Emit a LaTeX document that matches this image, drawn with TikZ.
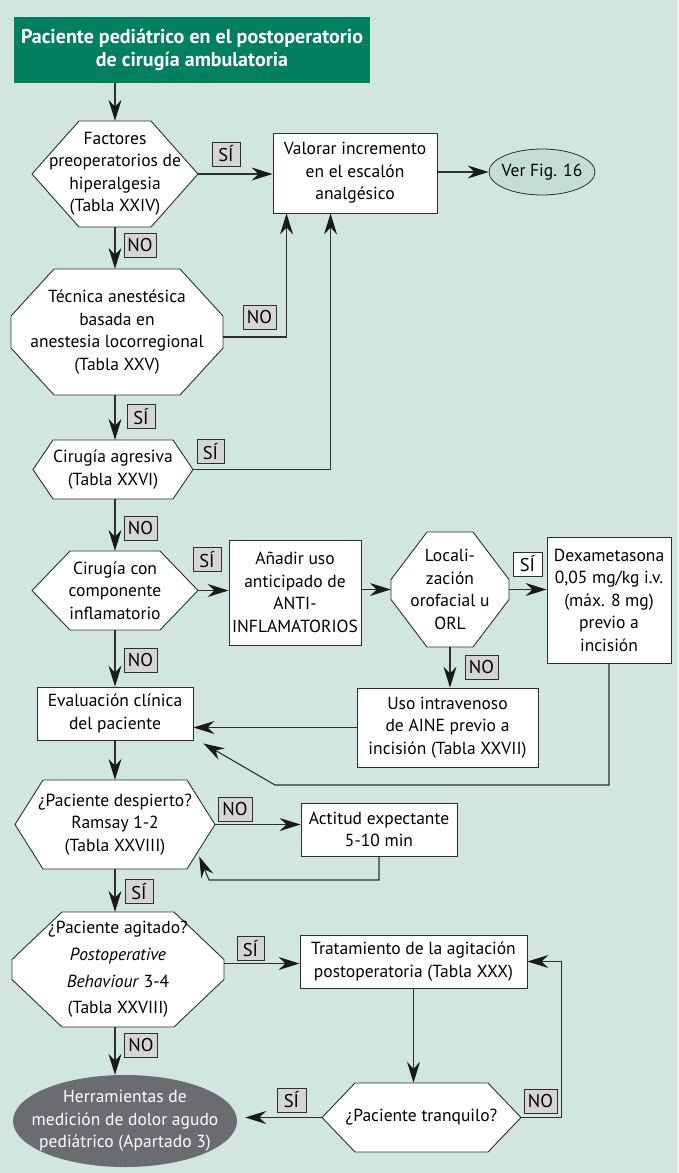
\documentclass[tikz,border=0pt]{standalone}
\usepackage{fontspec}
\setmainfont{PT Sans}
\usetikzlibrary{arrows.meta,calc,shapes.geometric}

\definecolor{bgc}{HTML}{D2E6E0}
\definecolor{titlegreen}{HTML}{00805F}
\definecolor{linec}{HTML}{2E2E2E}
\definecolor{headc}{HTML}{1A1A1A}
\definecolor{lblgray}{HTML}{D5D5D7}
\definecolor{figfill}{HTML}{C4DED6}
\definecolor{darkell}{HTML}{6B6C6F}

\newcommand\nodefont{\fontsize{17.5}{22.5}\selectfont}

% decision shape: options, name, cx, cy, half width, half height, cut x, half vertical side, text
\newcommand\decision[9]{%
  \path[decshape] ({#3-#5},{#4-#8}) -- ({#3-#5+#7},{#4-#6}) -- ({#3+#5-#7},{#4-#6}) -- ({#3+#5},{#4-#8})
    -- ({#3+#5},{#4+#8}) -- ({#3+#5-#7},{#4+#6}) -- ({#3-#5+#7},{#4+#6}) -- ({#3-#5},{#4+#8}) -- cycle;
  \node[dectext, minimum width={2*#5}, minimum height={2*#6}, #1] (#2) at (#3,#4) {#9};
}

\begin{document}
\begin{tikzpicture}[x=1pt,y=-1pt,
  box/.style={draw=linec, fill=white, line width=0.9pt, align=center, inner sep=0pt, font=\nodefont},
  dectext/.style={align=center, inner sep=0pt, font=\nodefont},
  decshape/.style={draw=linec, fill=white, line width=0.9pt},
  lbl/.style={draw=linec, fill=lblgray, line width=0.9pt, inner sep=0pt, minimum height=24,
    font=\fontsize{18.5}{20}\selectfont},
  arr/.style={draw=linec, line width=1.1pt, -{Stealth[length=21pt,width=13pt,inset=7pt,color=headc]}},
  oval/.style={ellipse, inner xsep=-25pt, inner ysep=-20pt, font=\nodefont, align=center},
]
\fill[bgc] (0,0) rectangle (678,1173);
\useasboundingbox (0,0) rectangle (678,1173);

% nodes
\node[fill=titlegreen, minimum width=356, minimum height=66, inner sep=0pt, text=white,
  font=\fontsize{20}{23}\selectfont\bfseries, align=center] (title) at (192,50)
  {Paciente pediátrico en el postoperatorio\\de cirugía ambulatoria};
\coordinate (col) at (115,0);

\decision{}{fac}{115}{174}{83}{53}{47}{0}{Factores\\preoperatorios de\\hiperalgesia\\(Tabla XXIV)}
\node[box, minimum width=164, minimum height=80] (val) at (355,173) {Valorar incremento\\en el escalón\\analgésico};
\node[oval, draw=linec, fill=figfill, line width=0.8pt, minimum width=106, minimum height=46] (fig) at (542,172) {Ver Fig. 16};

\decision{}{tec}{117}{332}{106}{63}{43}{16}{Técnica anestésica\\basada en\\anestesia locorregional\\(Tabla XXV)}
\decision{}{agr}{113}{469.5}{80}{29.5}{20}{0}{Cirugía agresiva\\(Tabla XXVI)}
\decision{}{inf}{115}{590.5}{83}{39.5}{38}{0}{Cirugía con\\componente\\inflamatorio}
\node[box, minimum width=132, minimum height=105] (ana) at (295,592.5) {Añadir uso\\anticipado de\\ANTI-\\INFLAMATORIOS};
\decision{}{loc}{450}{589.5}{59}{57.5}{36}{10}{Locali-\\zación\\orofacial u\\ORL}
\node[box, minimum width=124, minimum height=126] (dex) at (609,600) {Dexametasona\\0,05 mg/kg i.v.\\(máx. 8 mg)\\previo a\\incisión};
\node[box, minimum width=181, minimum height=79] (uso) at (447.5,727.5) {Uso intravenoso\\de AINE previo a\\incisión (Tabla XXVII)};
\node[box, minimum width=156, minimum height=53] (eva) at (115,713.5) {Evaluación clínica\\del paciente};
\decision{}{des}{115}{824.5}{100}{44.5}{28}{0}{¿Paciente despierto?\\Ramsay 1-2\\(Tabla XXVIII)}
\node[box, minimum width=156, minimum height=53] (act) at (379,829.5) {Actitud expectante\\5-10 min};
\decision{font=\fontsize{17.5}{26.7}\selectfont}{agi}{118}{969.5}{106}{57.5}{50}{10}{¿Paciente agitado?\\\textit{Postoperative}\\\textit{Behaviour} 3-4\\(Tabla XXVIII)}
\node[box, minimum width=227, minimum height=53] (tra) at (413.5,961.5) {Tratamiento de la agitación\\postoperatoria (Tabla XXX)};
\decision{}{tranq}{421.5}{1117.5}{99.5}{34.5}{33}{0}{¿Paciente tranquilo?}
\node[oval, fill=darkell, minimum width=224, minimum height=92, text=white] (her) at (125,1121)
  {Herramientas de\\medición de dolor agudo\\pediátrico (Apartado 3)};

% answer tags
\node[lbl, minimum width=28] (l1) at (226,154) {SÍ};
\node[lbl, minimum width=32] (l2) at (140,245) {NO};
\node[lbl, minimum width=33] (l3) at (259.5,317.5) {NO};
\node[lbl, minimum width=28] (l4) at (141,416.5) {SÍ};
\node[lbl, minimum width=27] (l5) at (210.5,451.5) {SÍ};
\node[lbl, minimum width=33] (l6) at (140.5,528.5) {NO};
\node[lbl, minimum width=28] (l7) at (207,559.5) {SÍ};
\node[lbl, fill=white, minimum width=29] (l8) at (527.5,564) {SÍ};
\node[lbl, minimum width=33] (l9) at (481.5,667.5) {NO};
\node[lbl, minimum width=33] (l10) at (140.5,660.5) {NO};
\node[lbl, minimum width=34] (l11) at (235,809.5) {NO};
\node[lbl, minimum width=28] (l12) at (139,891.5) {SÍ};
\node[lbl, minimum width=27] (l13) at (250.5,948.5) {SÍ};
\node[lbl, minimum width=33] (l14) at (141,1045.5) {NO};
\node[lbl, minimum width=33] (l15) at (540.5,1101) {NO};
\node[lbl, minimum width=29] (l16) at (291.5,1100) {SÍ};

% connectors
\draw[arr] (col |- title.south) -- (col |- fac.north);
\draw[arr] (fac.east) -- (fac.east -| val.west);
\draw[arr] (val.east |- fig.west) -- (fig.west);
\draw[arr] (col |- fac.south) -- (col |- tec.north);
\coordinate (tecR) at ($(tec.east)+(0,5)$);
\draw[arr] (tecR) -| ($(val.south west)+(14,0)$);
\draw[arr] (col |- tec.south) -- (col |- agr.north);
\draw[arr] (agr.east) -| ($(val.south west)+(58,0)$);
\draw[arr] (col |- agr.south) -- (col |- inf.north);
\draw[arr] (inf.east) -- (inf.east -| ana.west);
\draw[arr] (col |- inf.south) -- (col |- eva.north);
\draw[arr] (ana.east |- loc.west) -- (loc.west);
\draw[arr] (loc.east) -- (loc.east -| dex.west);
\draw[arr] (loc.south) -- (loc.south |- uso.north);
\draw[arr] (uso.west) -- (uso.west -| eva.east);
\coordinate (bend) at (275,785);
\draw[arr] (dex.south) |- (bend) -- ($(eva.south east)+(10,3)$);
\draw[arr] (col |- eva.south) -- (col |- des.north);
\draw[arr] (des.east) -- (des.east -| act.west);
\coordinate (lp) at (209,880);
\draw[arr] (act.south) |- (lp) -- ($(des.east)+(-16,32)$);
\draw[arr] (col |- des.south) -- (col |- agi.north);
\coordinate (agiR) at ($(agi.east)+(0,-6)$);
\draw[arr] (agiR) -- (agiR -| tra.west);
\draw[arr] (tra.south) -- (tra.south |- tranq.north);
\draw[arr] (tranq.east) -- ++(40,0) |- (tra.east);
\draw[arr, shorten >=8pt] (tranq.west) -- (tranq.west -| her.east);
\draw[arr] (col |- agi.south) -- (col |- her.north);
\end{tikzpicture}
\end{document}
